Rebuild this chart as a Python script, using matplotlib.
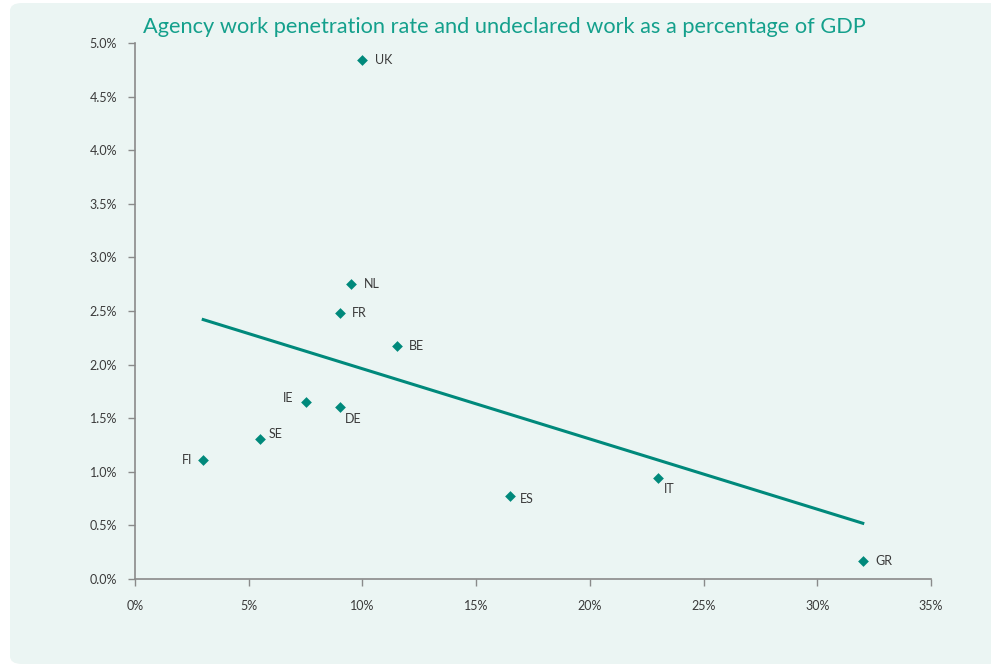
import numpy as np
import matplotlib.pyplot as plt
from matplotlib.patches import FancyBboxPatch
from matplotlib.ticker import FuncFormatter

# data: undeclared work (% GDP) vs agency work penetration rate
countries = ["UK", "NL", "FR", "BE", "IE", "DE", "SE", "FI", "ES", "IT", "GR"]
undeclared = [10.0, 9.5, 9.0, 11.5, 7.5, 9.0, 5.5, 3.0, 16.5, 23.0, 32.0]
penetration = [4.84, 2.75, 2.48, 2.17, 1.65, 1.60, 1.31, 1.11, 0.77, 0.94, 0.17]

# trend line end points
trend_x = [3.0, 32.0]
trend_y = [2.42, 0.52]

# label offsets in points (dx, dy, ha)
label_pos = {
    "UK": (9, 0, "left"), "NL": (9, 0, "left"), "FR": (9, 0, "left"),
    "BE": (9, 0, "left"), "IE": (-9, 3, "right"), "DE": (4, -8, "left"),
    "SE": (6, 3, "left"), "FI": (-8, 0, "right"), "ES": (7, -2, "left"),
    "IT": (4, -8, "left"), "GR": (9, 0, "left"),
}

teal = "#00897b"
bg = "#ebf5f3"
txt = "#3a3a3a"

plt.rcParams["font.family"] = ["Lato", "DejaVu Sans"]

fig = plt.figure(figsize=(9.91, 6.64), dpi=100)
fig.patch.set_facecolor("white")
panel = FancyBboxPatch((10 / 991, 0), 1.0, 1 - 3 / 664,
                       boxstyle="round,pad=0,rounding_size=0.012",
                       transform=fig.transFigure, facecolor=bg,
                       edgecolor="none", zorder=-1)
fig.patches.append(panel)

ax = fig.add_axes([135 / 991, 1 - 579 / 664, (931 - 135) / 991, (579 - 43) / 664])
ax.set_facecolor("none")
ax.set_zorder(1)

ax.plot(trend_x, trend_y, color=teal, lw=2.2, zorder=2)
ax.scatter(undeclared, penetration, marker="D", s=30, color=teal, zorder=3,
           linewidths=0)

for c, x, y in zip(countries, undeclared, penetration):
    dx, dy, ha = label_pos[c]
    ax.annotate(c, (x, y), xytext=(dx, dy), textcoords="offset points",
                ha=ha, va="center", fontsize=9, color=txt)

ax.set_xlim(0, 35)
ax.set_ylim(0, 5.0)
ax.set_xticks(np.arange(0, 36, 5))
ax.set_yticks(np.arange(0, 5.01, 0.5))
ax.xaxis.set_major_formatter(FuncFormatter(lambda v, p: f"{v:.0f}%"))
ax.yaxis.set_major_formatter(FuncFormatter(lambda v, p: f"{v:.1f}%"))

for s in ["top", "right"]:
    ax.spines[s].set_visible(False)
for s in ["left", "bottom"]:
    ax.spines[s].set_color("#8a8a8a")
    ax.spines[s].set_linewidth(1.2)
ax.tick_params(direction="out", length=5, width=1, color="#8a8a8a",
               labelsize=9, labelcolor=txt)
ax.tick_params(axis="x", pad=10)
ax.tick_params(axis="y", pad=8)

fig.text(504 / 991, 1 - 27 / 664, "Agency work penetration rate and undeclared work as a percentage of GDP",
         ha="center", va="center", fontsize=15.7, color="#14a08c")

fig.savefig("out.png", dpi=100, facecolor=fig.get_facecolor())
